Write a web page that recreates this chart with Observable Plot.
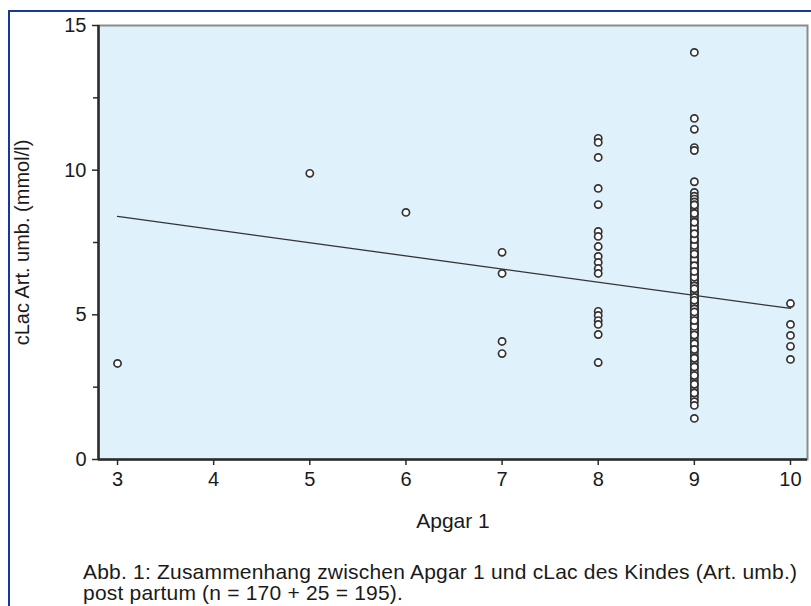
<!DOCTYPE html>
<html>
<head>
<meta charset="utf-8">
<script src="https://cdn.jsdelivr.net/npm/d3@7"></script>
<script src="https://cdn.jsdelivr.net/npm/@observablehq/plot@0.6"></script>
<style>
  html, body { margin: 0; padding: 0; background: #ffffff; width: 811px; height: 606px; overflow: hidden; }
  #page { position: relative; width: 811px; height: 606px; }
  #border { position: absolute; left: 8px; top: 10px; width: 900px; height: 700px; border: 2px solid #14399b; box-sizing: border-box; }
  #chart { position: absolute; left: 0; top: 0; }
  #caption { position: absolute; left: 83px; top: 561px; font-family: "Liberation Sans", Arial, sans-serif; font-size: 21px; line-height: 21px; letter-spacing: 0.2px; color: #1a1a1a; white-space: nowrap; }
  #chart svg g[aria-label="y-axis tick label"] text, #chart svg g[aria-label="x-axis tick label"] text { font-size: 20px; }
</style>
</head>
<body>
<div id="page">
  <div id="border"></div>
  <div id="chart"></div>
  <div id="caption">Abb. 1: Zusammenhang zwischen Apgar 1 und cLac des Kindes (Art. umb.)<br>post partum (n = 170 + 25 = 195).</div>
</div>
<script>
// Apgar 1 score groups and cLac values (mmol/l)
const apgar3 = [3.32];
const apgar5 = [9.89];
const apgar6 = [8.54];
const apgar7 = [7.16, 6.43, 4.08, 3.66];
const apgar8 = [11.1, 10.96, 10.44, 9.37, 8.81, 7.88, 7.71, 7.36, 7.02, 6.81, 6.6, 6.43, 5.12, 4.98, 4.8, 4.67, 4.32, 3.35];
const apgar9 = [14.07, 11.79, 11.41, 10.78, 10.68, 9.6,
  9.23, 9.1, 9.0, 8.9, 8.8, 8.7, 8.6, 8.5, 8.4, 8.3, 8.2, 8.1, 8.0, 7.9, 7.85, 7.8, 7.7, 7.6, 7.55, 7.5, 7.4, 7.35, 7.3, 7.2, 7.15, 7.1, 7.05, 7.0, 6.95, 6.9, 6.85, 6.8, 6.75, 6.7, 6.65, 6.6, 6.55, 6.5, 6.45, 6.4, 6.35, 6.3, 6.25, 6.2, 6.15, 6.1, 6.05, 6.0, 5.95, 5.9, 5.85, 5.8, 5.75, 5.7, 5.65, 5.6, 5.55, 5.5, 5.45, 5.4, 5.35, 5.3, 5.25, 5.2, 5.15, 5.1, 5.05, 5.0, 4.95, 4.9, 4.85, 4.8, 4.75, 4.7, 4.65, 4.6, 4.55, 4.5, 4.45, 4.4, 4.35, 4.3, 4.2, 4.1, 4.0, 3.9, 3.8, 3.7, 3.6, 3.5, 3.4, 3.3, 3.2, 3.1, 3.0, 2.9, 2.8, 2.7, 2.6, 2.5, 2.4, 2.3, 2.2, 2.1, 2.0, 1.87, 1.42,
  6.6, 6.4, 6.2, 6.0, 5.8, 5.6, 5.4, 5.2, 5.0, 4.8, 6.5, 6.3, 6.1, 5.9, 5.7, 5.5, 5.3, 5.1, 4.9, 4.7,
  7.0, 6.8, 6.7, 7.2, 7.4, 8.0, 8.5, 4.5, 4.3, 4.0, 3.8, 3.5, 3.2, 2.9, 2.6, 2.3, 6.9, 6.6, 6.2, 5.8,
  5.4, 5.0, 4.6, 7.6, 7.8, 8.2, 8.8, 6.4, 6.0, 5.6, 5.2, 4.8, 6.7, 6.3, 5.9, 5.5, 5.1, 7.1, 6.5];
const apgar10 = [5.39, 4.67, 4.29, 3.91, 3.46];

// Regression line endpoints
const fitX = [3, 10];
const fitY = [8.4, 5.22];

// Axes
const xDomain = [2.802, 10.177];
const yDomain = [0, 15];
const xTicks = [3, 4, 5, 6, 7, 8, 9, 10];
const yTicks = [0, 5, 10, 15];
const yMinorTicks = [2.5, 7.5, 12.5];
const xTitle = "Apgar 1";
const yTitle = "cLac Art. umb. (mmol/l)";

const groups = [[3, apgar3], [5, apgar5], [6, apgar6], [7, apgar7], [8, apgar8], [9, apgar9], [10, apgar10]];
const points = groups.flatMap(([a, vals]) => vals.map(v => ({apgar: a, clac: v})));
const fit = fitX.map((x, i) => ({x, y: fitY[i]}));

const chart = Plot.plot({
  width: 811,
  height: 545,
  marginLeft: 98,
  marginRight: 4,
  marginTop: 25,
  marginBottom: 86,
  style: {fontFamily: "'Liberation Sans', Arial, sans-serif", fontSize: "20px", color: "#1a1a1a", background: "transparent", overflow: "visible"},
  x: {domain: xDomain},
  y: {domain: yDomain},
  marks: [
    Plot.frame({fill: "#dff1fb", stroke: "#8c8c8c", strokeWidth: 2}),
    Plot.ruleX([xDomain[0]], {stroke: "#2b2b2b", strokeWidth: 2.5}),
    Plot.ruleY([yDomain[0]], {stroke: "#2b2b2b", strokeWidth: 2.5}),
    Plot.axisY(yMinorTicks, {tickSize: 5, tickFormat: () => "", label: null, stroke: "#2b2b2b", strokeWidth: 1.5}),
    Plot.axisY(yTicks, {tickSize: 6, tickPadding: 6, stroke: "#2b2b2b", strokeWidth: 1.5, fontSize: 20, fill: "#1a1a1a", label: null}),
    Plot.axisX(xTicks, {tickSize: 6, tickPadding: 6, stroke: "#2b2b2b", strokeWidth: 1.5, fontSize: 20, fill: "#1a1a1a", label: null}),
    Plot.text([yTitle], {frameAnchor: "left", dx: -76, rotate: -90, textAnchor: "middle", lineAnchor: "middle", fontSize: 20, fill: "#1a1a1a"}),
    Plot.text([xTitle], {frameAnchor: "bottom", dy: 62, textAnchor: "middle", lineAnchor: "middle", fontSize: 21, fill: "#1a1a1a"}),
    Plot.line(fit, {x: "x", y: "y", stroke: "#333", strokeWidth: 1.3}),
    Plot.dot(points, {x: "apgar", y: "clac", r: 3.6, fill: "white", stroke: "#333", strokeWidth: 1.7})
  ]
});
document.getElementById("chart").appendChild(chart);
</script>
</body>
</html>
